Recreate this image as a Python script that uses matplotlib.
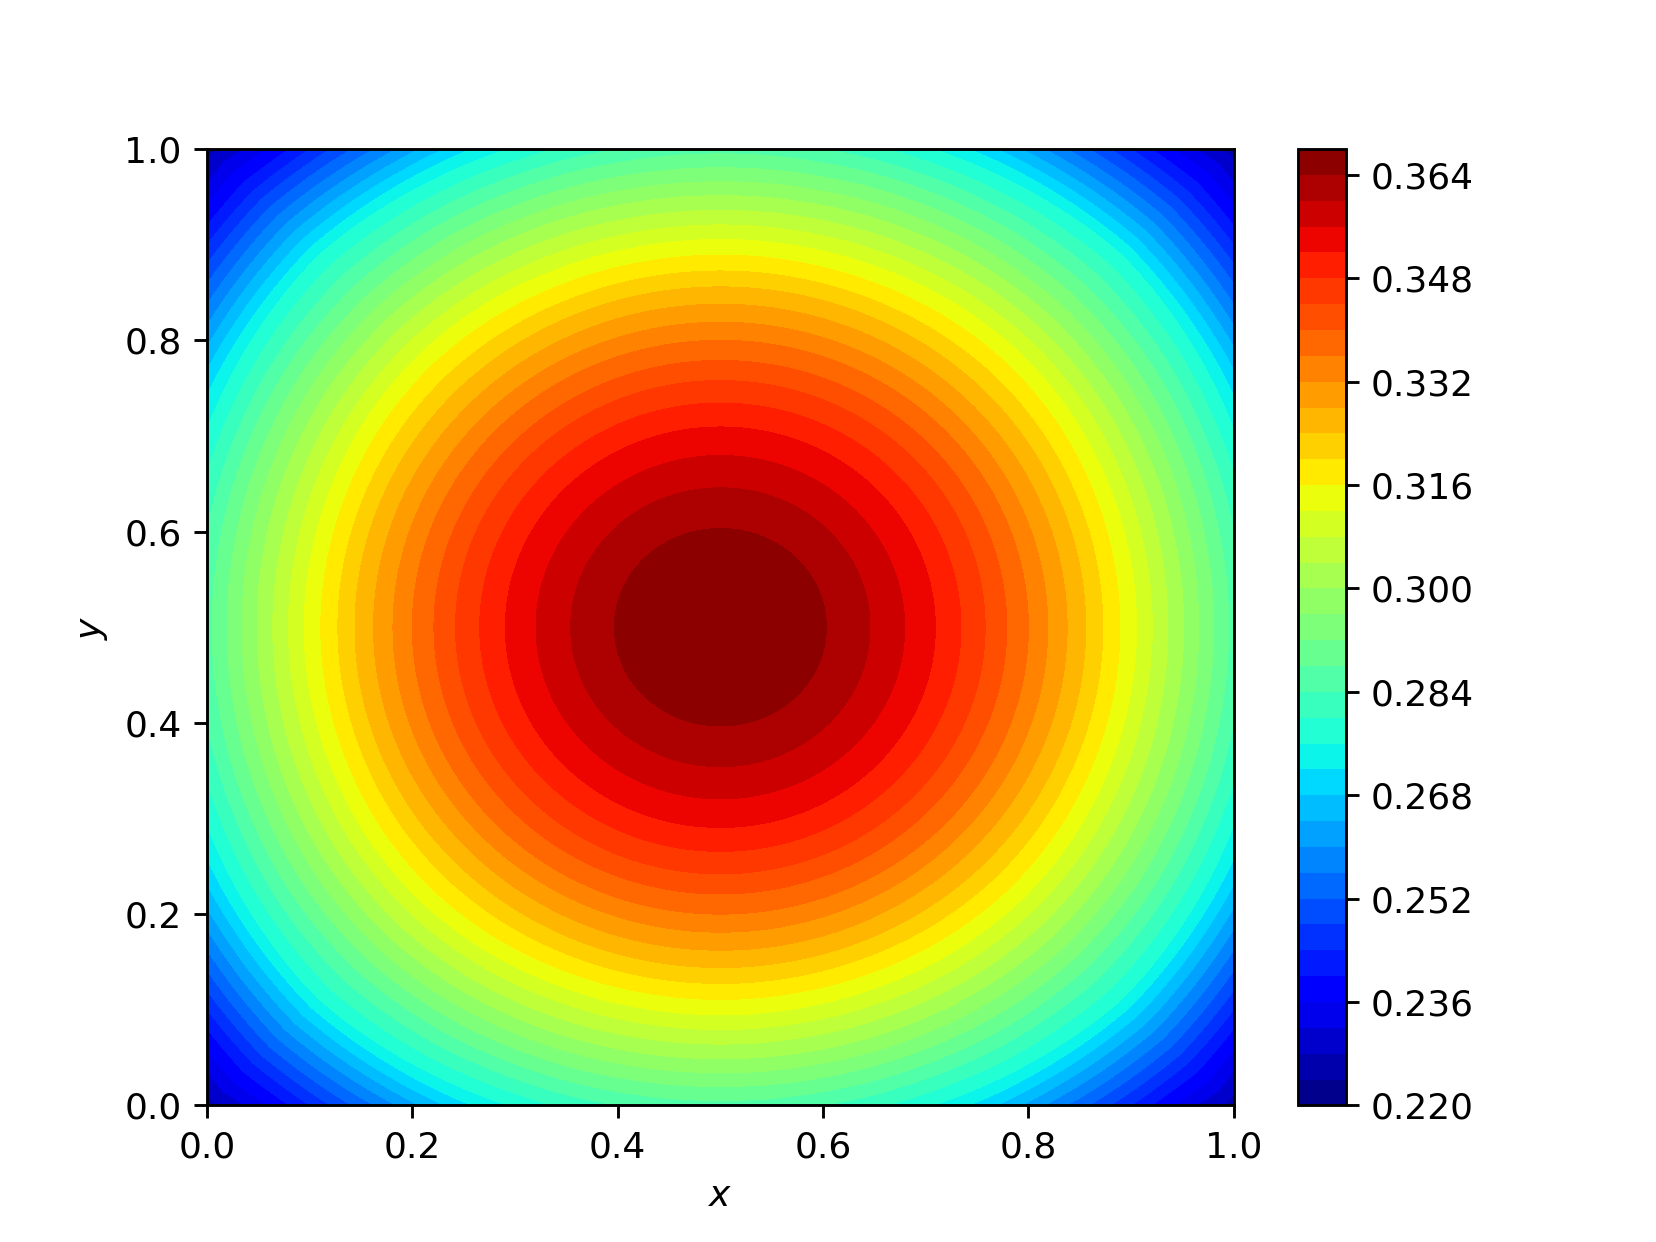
import numpy as np
import matplotlib.pyplot as plt

# field in polar form around the centre (0.5, 0.5)
radii = [0.0, 0.05, 0.10, 0.15, 0.20, 0.25, 0.30, 0.35, 0.40, 0.45, 0.50, 0.55, 0.60, 0.65, 0.70, 0.75]
angles_deg = [0.0, 11.25, 22.5, 33.75, 45.0]
values = [
    [0.3678, 0.3678, 0.3678, 0.3678, 0.3678],
    [0.3668, 0.3668, 0.3668, 0.3668, 0.3668],
    [0.3643, 0.3643, 0.3643, 0.3643, 0.3643],
    [0.3596, 0.3596, 0.3596, 0.3596, 0.3596],
    [0.3535, 0.3535, 0.3535, 0.3535, 0.3535],
    [0.3455, 0.3455, 0.3455, 0.3455, 0.3455],
    [0.3360, 0.3360, 0.3360, 0.3360, 0.3360],
    [0.3254, 0.3254, 0.3254, 0.3254, 0.3254],
    [0.3134, 0.3134, 0.3136, 0.3140, 0.3142],
    [0.3003, 0.3005, 0.3010, 0.3015, 0.3018],
    [0.2866, 0.2868, 0.2875, 0.2885, 0.2890],
    [0.2720, 0.2725, 0.2735, 0.2750, 0.2765],
    [0.2560, 0.2560, 0.2560, 0.2570, 0.2590],
    [0.2380, 0.2380, 0.2380, 0.2395, 0.2420],
    [0.2180, 0.2180, 0.2180, 0.2205, 0.2280],
    [0.2000, 0.2000, 0.2000, 0.2000, 0.2100],
]
level_min = 0.220
level_max = 0.368
level_count = 38
cbar_ticks = [0.220, 0.236, 0.252, 0.268, 0.284, 0.300, 0.316, 0.332, 0.348, 0.364]

# mirror the 0-45 degree wedge round the full circle, angles folded into the wedge
wedge = np.array(values)
r = np.array(radii)
theta = np.linspace(0, 2 * np.pi, 361)
folded = np.degrees(theta) % 90
folded = np.minimum(folded, 90 - folded)
# resample the table in angle only so the rings are drawn round, not as polygons
field = np.array([np.interp(folded, angles_deg, row) for row in wedge])
R, T = np.meshgrid(r, theta, indexing="ij")
X = 0.5 + R * np.cos(T)
Y = 0.5 + R * np.sin(T)

levels = np.linspace(level_min, level_max, level_count)

fig, ax = plt.subplots(figsize=(6.4, 4.8))
cf = ax.contourf(X, Y, field, levels=levels, cmap="jet")
ax.set_xlim(0, 1)
ax.set_ylim(0, 1)
ax.set_xlabel("$x$")
ax.set_ylabel("$y$")
cbar = fig.colorbar(cf, ax=ax, ticks=cbar_ticks)
cbar.ax.set_yticklabels(["%.3f" % t for t in cbar_ticks])
fig.savefig("out.png", dpi=258.75)
